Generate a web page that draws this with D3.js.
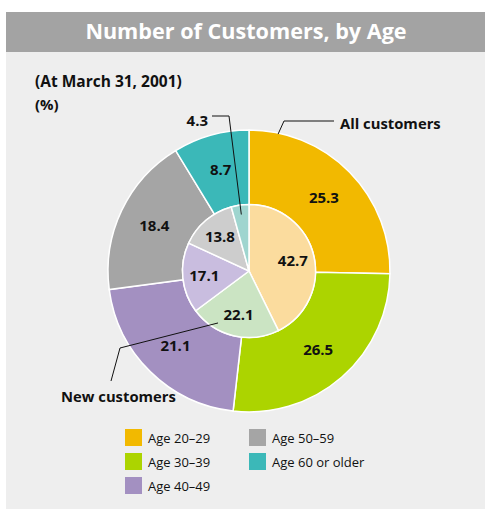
<!DOCTYPE html>
<html>
<head>
<meta charset="utf-8">
<script src="https://cdn.jsdelivr.net/npm/d3@7"></script>
<style>
    body { margin: 0; background: #ffffff; }
    svg { display: block; font-family: "Open Sans", "Noto Sans", sans-serif; }
</style>
</head>
<body>
<div id="chart"></div>
<script>
(function (d3) {
    "use strict";

    /***** Données *****/

    const age_groups = ["Age 20–29", "Age 30–39", "Age 40–49", "Age 50–59", "Age 60 or older"];
    const all_customers = [25.3, 26.5, 21.1, 18.4, 8.7];
    const new_customers = [42.7, 22.1, 17.1, 13.8, 4.3];

    const colors_all = ["#f2b900", "#acd400", "#a390c1", "#a5a5a5", "#3bb8b8"];
    const colors_new = ["#fbdc9e", "#cbe4c3", "#c9bddf", "#cdcdcd", "#9fd5cf"];

    /***** Configuration *****/

    const width = 485;
    const height = 510;
    const cx = 249;
    const cy = 271;
    const r_outer = 141;
    const r_inner = 66.5;

    var svg = d3.select("#chart")
        .append("svg")
        .attr("width", width)
        .attr("height", height);

    // fond + bandeau du titre
    svg.append("rect")
        .attr("x", 6).attr("y", 52)
        .attr("width", width - 6).attr("height", 457)
        .attr("fill", "#eeeeee");

    svg.append("rect")
        .attr("x", 6).attr("y", 12)
        .attr("width", width - 6).attr("height", 40)
        .attr("fill", "#a3a3a3");

    svg.append("text")
        .attr("x", 246).attr("y", 39)
        .attr("text-anchor", "middle")
        .attr("fill", "#ffffff")
        .style("font-size", "21.6px")
        .style("font-weight", "700")
        .text("Number of Customers, by Age");

    svg.append("text")
        .attr("x", 35).attr("y", 87)
        .style("font-size", "15.5px")
        .style("font-weight", "700")
        .attr("fill", "#111")
        .text("(At March 31, 2001)");

    svg.append("text")
        .attr("x", 35).attr("y", 110)
        .style("font-size", "15px")
        .style("font-weight", "700")
        .attr("fill", "#111")
        .text("(%)");

    /***** Anneaux *****/

    var pie = d3.pie().sort(null).value(d => d);

    var arc_outer = d3.arc().innerRadius(r_inner).outerRadius(r_outer);
    var arc_inner = d3.arc().innerRadius(0).outerRadius(r_inner);

    var g = svg.append("g")
        .attr("transform", "translate(" + cx + "," + cy + ")");

    var outer_data = pie(all_customers);
    var inner_data = pie(new_customers);

    g.selectAll("path.outer")
        .data(outer_data)
        .enter().append("path")
        .attr("class", "outer")
        .attr("d", arc_outer)
        .attr("fill", (d, i) => colors_all[i])
        .attr("stroke", "#ffffff")
        .attr("stroke-width", 1.5);

    g.selectAll("path.inner")
        .data(inner_data)
        .enter().append("path")
        .attr("class", "inner")
        .attr("d", arc_inner)
        .attr("fill", (d, i) => colors_new[i])
        .attr("stroke", "#ffffff")
        .attr("stroke-width", 1.5);

    // étiquettes de valeurs
    var label_outer = d3.arc().innerRadius(105).outerRadius(105);
    var label_inner = d3.arc().innerRadius(45).outerRadius(45);

    g.selectAll("text.outer")
        .data(outer_data)
        .enter().append("text")
        .attr("class", "outer")
        .attr("transform", d => "translate(" + label_outer.centroid(d) + ")")
        .attr("dy", "0.35em")
        .attr("text-anchor", "middle")
        .style("font-size", "15px")
        .style("font-weight", "700")
        .attr("fill", "#111")
        .text(d => d.value.toFixed(1));

    var small = inner_data.filter(d => d.value < 5);
    var big = inner_data.filter(d => d.value >= 5);

    g.selectAll("text.inner")
        .data(big)
        .enter().append("text")
        .attr("class", "inner")
        .attr("transform", d => "translate(" + label_inner.centroid(d) + ")")
        .attr("dy", "0.35em")
        .attr("text-anchor", "middle")
        .style("font-size", "15px")
        .style("font-weight", "700")
        .attr("fill", "#111")
        .text(d => d.value.toFixed(1));

    // petite tranche : étiquette sortie avec un trait
    var ann = g.append("g").attr("fill", "none").attr("stroke", "#111").attr("stroke-width", 1);
    small.forEach(function (d) {
        var a = (d.startAngle + d.endAngle) / 2;
        var p = d3.pointRadial(a, 57);
        ann.append("polyline")
            .attr("points", [[-37, -155], [-20, -155], p].map(q => q.join(",")).join(" "));
        g.append("text")
            .attr("x", -41).attr("y", -145)
            .attr("text-anchor", "end")
            .style("font-size", "15px")
            .style("font-weight", "700")
            .attr("fill", "#111")
            .text(d.value.toFixed(1));
    });

    // légendes des anneaux
    var p_all = d3.pointRadial(12 * Math.PI / 180, r_outer - 1);
    ann.append("polyline")
        .attr("points", [p_all, [35, -150], [85, -150]].map(q => q.join(",")).join(" "));
    g.append("text")
        .attr("x", 91).attr("y", -142)
        .style("font-size", "14.8px")
        .style("font-weight", "700")
        .attr("fill", "#111")
        .text("All customers");

    var p_new = d3.pointRadial(210.8 * Math.PI / 180, 60.5);
    ann.append("polyline")
        .attr("points", [p_new, [-129, 77], [-138, 110]].map(q => q.join(",")).join(" "));
    g.append("text")
        .attr("x", -188).attr("y", 131)
        .style("font-size", "14.8px")
        .style("font-weight", "700")
        .attr("fill", "#111")
        .text("New customers");

    /***** Légende *****/

    var legend = svg.append("g").attr("transform", "translate(125,429)");

    var items = legend.selectAll("g")
        .data(age_groups)
        .enter().append("g")
        .attr("transform", (d, i) => "translate(" + (i < 3 ? 0 : 124) + "," + ((i % 3) * 24) + ")");

    items.append("rect")
        .attr("width", 17).attr("height", 17)
        .attr("fill", (d, i) => colors_all[i]);

    items.append("text")
        .attr("x", 23).attr("y", 13.5)
        .style("font-size", "13px")
        .attr("fill", "#111")
        .text(d => d);

})(d3);
</script>
</body>
</html>
